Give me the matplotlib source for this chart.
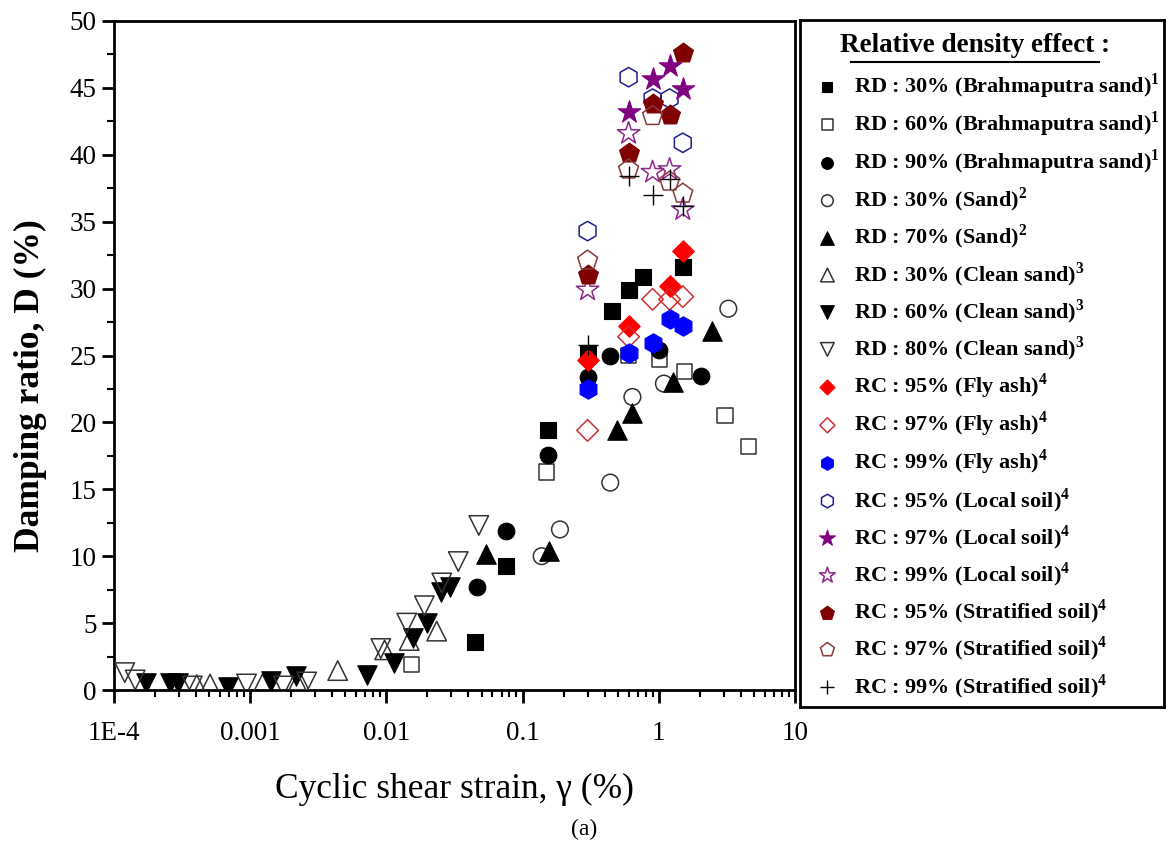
import numpy as np
import matplotlib.pyplot as plt
from matplotlib.lines import Line2D

plt.rcParams['font.family'] = ['Liberation Serif', 'DejaVu Serif']
plt.rcParams['mathtext.fontset'] = 'custom'
plt.rcParams['mathtext.rm'] = 'Liberation Serif'
plt.rcParams['mathtext.bf'] = 'Liberation Serif:bold'

# RD : 30% (Brahmaputra sand)
bs30_x = [0.045, 0.075, 0.153, 0.30, 0.45, 0.60, 0.76, 1.50]
bs30_y = [3.6, 9.3, 19.4, 25.2, 28.3, 29.9, 30.9, 31.6]
# RD : 60% (Brahmaputra sand)
bs60_x = [0.0152, 0.15, 0.60, 1.01, 1.54, 3.06, 4.57]
bs60_y = [1.9, 16.3, 25.0, 24.7, 23.8, 20.5, 18.2]
# RD : 90% (Brahmaputra sand)
bs90_x = [0.046, 0.0755, 0.153, 0.30, 0.44, 1.01, 2.03]
bs90_y = [7.7, 11.9, 17.6, 23.4, 25.0, 25.4, 23.5]
# RD : 30% (Sand)
s30_x = [0.138, 0.188, 0.44, 0.64, 1.09, 3.24]
s30_y = [10.0, 12.0, 15.5, 21.9, 22.9, 28.5]
# RD : 70% (Sand)
s70_x = [0.0538, 0.155, 0.49, 0.64, 1.28, 2.44]
s70_y = [10.2, 10.4, 19.4, 20.7, 23.0, 26.8]
# RD : 30% (Clean sand)
cs30_x = [4.05e-4, 5.07e-4, 1.23e-3, 2.28e-3, 4.39e-3, 0.0097, 0.0147, 0.0234]
cs30_y = [0.4, 0.45, 0.45, 0.75, 1.45, 3.0, 3.7, 4.4]
# RD : 60% (Clean sand)
cs60_x = [1.71e-4, 2.58e-4, 2.94e-4, 6.9e-4, 1.42e-3, 2.16e-3, 7.2e-3,
          0.0114, 0.0156, 0.0198, 0.0251, 0.0293]
cs60_y = [0.55, 0.5, 0.5, 0.25, 0.7, 1.05, 1.1, 2.05, 3.9, 5.0, 7.3, 7.7]
# RD : 80% (Clean sand)
cs80_x = [1.2e-4, 1.43e-4, 3.76e-4, 9.4e-4, 1.75e-3, 2.6e-3, 0.0091,
          0.0141, 0.019, 0.0255, 0.0337, 0.0477]
cs80_y = [1.3, 0.75, 0.3, 0.45, 0.3, 0.6, 3.1, 5.0, 6.3, 8.0, 9.6, 12.3]

# RC series (fly ash, local soil, stratified soil)
fa95_x = [0.3, 0.6, 1.2, 1.5]
fa95_y = [24.7, 27.2, 30.2, 32.8]
fa97_x = [0.3, 0.6, 0.9, 1.2, 1.5]
fa97_y = [19.4, 26.4, 29.2, 29.2, 29.4]
fa99_x = [0.3, 0.6, 0.9, 1.2, 1.5]
fa99_y = [22.5, 25.2, 25.9, 27.7, 27.2]
ls95_x = [0.3, 0.6, 0.9, 1.2, 1.5]
ls95_y = [34.3, 45.8, 44.2, 44.2, 40.9]
ls97_x = [0.6, 0.9, 1.2, 1.5]
ls97_y = [43.2, 45.7, 46.6, 44.9]
ls99_x = [0.3, 0.6, 0.9, 1.2, 1.5]
ls99_y = [29.9, 41.6, 38.7, 38.9, 35.9]
ss95_x = [0.3, 0.6, 0.9, 1.2, 1.5]
ss95_y = [31.0, 40.1, 43.8, 43.0, 47.6]
ss97_x = [0.3, 0.6, 0.9, 1.2, 1.5]
ss97_y = [32.1, 38.9, 42.9, 38.0, 37.1]
ss99_x = [0.3, 0.6, 0.9, 1.2, 1.5]
ss99_y = [25.8, 38.4, 37.0, 38.2, 36.2]

xtick_vals = [1e-4, 1e-3, 1e-2, 1e-1, 1, 10]
xtick_labels = ['1E-4', '0.001', '0.01', '0.1', '1', '10']

fig = plt.figure(figsize=(11.68, 8.51), dpi=100)
ax = fig.add_axes([114/1168, 1-690/851, (795-114)/1168, (690-21)/851])

series = [
    (bs30_x, bs30_y, 's', 'black', True, 11, r'RD : 30% (Brahmaputra sand)$^{\mathbf{1}}$'),
    (bs60_x, bs60_y, 's', '#333333', False, 11, r'RD : 60% (Brahmaputra sand)$^{\mathbf{1}}$'),
    (bs90_x, bs90_y, 'o', 'black', True, 12, r'RD : 90% (Brahmaputra sand)$^{\mathbf{1}}$'),
    (s30_x, s30_y, 'o', '#333333', False, 12, r'RD : 30% (Sand)$^{\mathbf{2}}$'),
    (s70_x, s70_y, '^', 'black', True, 14, r'RD : 70% (Sand)$^{\mathbf{2}}$'),
    (cs30_x, cs30_y, '^', '#333333', False, 14, r'RD : 30% (Clean sand)$^{\mathbf{3}}$'),
    (cs60_x, cs60_y, 'v', 'black', True, 14, r'RD : 60% (Clean sand)$^{\mathbf{3}}$'),
    (cs80_x, cs80_y, 'v', '#333333', False, 14, r'RD : 80% (Clean sand)$^{\mathbf{3}}$'),
    (fa95_x, fa95_y, 'D', 'red', True, 11, r'RC : 95% (Fly ash)$^{\mathbf{4}}$'),
    (fa97_x, fa97_y, 'D', '#d03030', False, 11, r'RC : 97% (Fly ash)$^{\mathbf{4}}$'),
    (fa99_x, fa99_y, 'h', 'blue', True, 14, r'RC : 99% (Fly ash)$^{\mathbf{4}}$'),
    (ls95_x, ls95_y, 'h', '#1f1f8f', False, 14, r'RC : 95% (Local soil)$^{\mathbf{4}}$'),
    (ls97_x, ls97_y, '*', '#800080', True, 17, r'RC : 97% (Local soil)$^{\mathbf{4}}$'),
    (ls99_x, ls99_y, '*', '#8b2a8b', False, 17, r'RC : 99% (Local soil)$^{\mathbf{4}}$'),
    (ss95_x, ss95_y, 'p', '#800000', True, 15, r'RC : 95% (Stratified soil)$^{\mathbf{4}}$'),
    (ss97_x, ss97_y, 'p', '#8b3a3a', False, 15, r'RC : 97% (Stratified soil)$^{\mathbf{4}}$'),
    (ss99_x, ss99_y, '+', 'black', True, 15, r'RC : 99% (Stratified soil)$^{\mathbf{4}}$'),
]

for xs, ys, mk, col, filled, ms, lab in series:
    if mk == '+':
        ax.scatter(xs, ys, marker=mk, s=ms**2, c=col, linewidths=1.0, label=lab, zorder=3)
    elif filled:
        ax.scatter(xs, ys, marker=mk, s=ms**2, c=col, edgecolors=col, linewidths=0.8,
                   label=lab, zorder=3)
    else:
        ax.scatter(xs, ys, marker=mk, s=ms**2, facecolors='none', edgecolors=col,
                   linewidths=1.1, label=lab, zorder=3)

ax.set_xscale('log')
ax.set_xlim(1e-4, 10)
ax.set_ylim(0, 50)
ax.set_xticks(xtick_vals)
ax.set_xticklabels(xtick_labels)
ax.set_yticks(np.arange(0, 51, 5))
ax.set_yticks(np.arange(2.5, 50, 5), minor=True)
ax.tick_params(axis='both', which='major', direction='out', length=9, width=2,
               labelsize=19.5, top=False, right=False)
ax.tick_params(axis='x', which='major', pad=13)
ax.tick_params(axis='both', which='minor', direction='out', length=5, width=1.5,
               top=False, right=False)
for sp in ax.spines.values():
    sp.set_linewidth(2)

ax.set_xlabel('Cyclic shear strain, γ (%)', fontsize=25.5, labelpad=20)
ax.set_ylabel('Damping ratio, D (%)', fontsize=25.5, fontweight='bold')
ax.yaxis.set_label_coords(-0.098, 0.455)
fig.text(584/1168, 1-829/851, '(a)', fontsize=17, ha='center', va='center')

# legend panel
lax = fig.add_axes([800/1168, 1-707/851, 364/1168, 687/851])
lax.set_xticks([])
lax.set_yticks([])
for sp in lax.spines.values():
    sp.set_linewidth(2)
fig.text(975/1168, 1-46/851, 'Relative density effect :', fontsize=19.5,
         fontweight='bold', ha='center', va='center')
fig.add_artist(Line2D([851/1168, 1099/1168], [1-62/851, 1-62/851], color='black',
                      lw=1.5, transform=fig.transFigure))
handles, labels = ax.get_legend_handles_labels()
leg = lax.legend(handles, labels, loc='upper left', bbox_to_anchor=(0.002, 0.945),
                 frameon=False, markerscale=0.7, handletextpad=0.6, handlelength=1.2,
                 labelspacing=0.385, borderaxespad=0.2,
                 prop={'family': 'Liberation Serif', 'weight': 'bold', 'size': 16})

fig.savefig('out.png', dpi=100)
